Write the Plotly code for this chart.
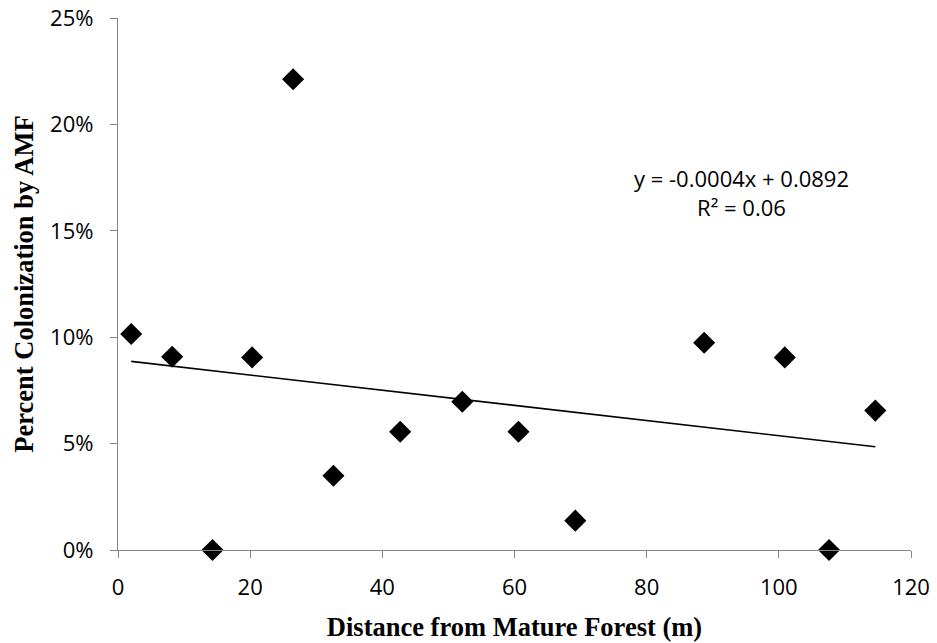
import numpy as np
import plotly.graph_objects as go

# Distance from mature forest (m) and AMF colonization (fraction)
distance_m = [2.0, 8.2, 14.3, 20.3, 26.5, 32.6, 42.7, 52.1, 60.6, 69.2, 88.7, 100.9, 107.6, 114.6]
colonization = [0.1015, 0.0908, 0.0, 0.0905, 0.2212, 0.0349, 0.0556, 0.0697, 0.0556, 0.0138,
                0.0974, 0.0905, 0.0, 0.0655]

x_ticks = [0, 20, 40, 60, 80, 100, 120]
y_ticks = [0, 0.05, 0.10, 0.15, 0.20, 0.25]

equation_text = "y = -0.0004x + 0.0892<br>R² = 0.06"

# Least-squares linear trend over the observed distance span
slope, intercept = np.polyfit(distance_m, colonization, 1)
trend_x = [min(distance_m), max(distance_m)]
trend_y = [slope * v + intercept for v in trend_x]

axis_gray = "#868686"
tick_font = dict(family="Open Sans, Liberation Sans, sans-serif", size=22, color="#000000")
serif = "Liberation Serif, Times New Roman, serif"

fig = go.Figure()
fig.add_trace(go.Scatter(
    x=trend_x, y=trend_y, mode="lines",
    line=dict(color="#000000", width=1.6),
    showlegend=False, hoverinfo="skip",
))
fig.add_trace(go.Scatter(
    x=distance_m, y=colonization, mode="markers",
    marker=dict(symbol="diamond", size=17, color="#000000", line=dict(width=0)),
    cliponaxis=False, showlegend=False,
))

# Trendline equation label
fig.add_annotation(
    x=94.3, y=0.1678, xref="x", yref="y", text=equation_text,
    showarrow=False, font=dict(family=tick_font["family"], size=22, color="#000000"),
    align="center", xanchor="center", yanchor="middle",
)

fig.update_layout(
    width=937, height=643,
    margin=dict(l=117.5, r=26.3, t=18, b=93, autoexpand=False),
    paper_bgcolor="#ffffff", plot_bgcolor="#ffffff",
    xaxis=dict(
        range=[0, 120], tickvals=x_ticks, ticktext=[str(v) for v in x_ticks],
        showline=True, linecolor=axis_gray, linewidth=1.3,
        ticks="outside", ticklen=7, tickcolor=axis_gray, tickwidth=1.3,
        ticklabelstandoff=10, automargin=False,
        showgrid=False, zeroline=False, tickfont=tick_font,
        title=dict(text="<b>Distance from Mature Forest (m)</b>",
                   font=dict(family=serif, size=26.5, color="#000000"), standoff=17),
    ),
    yaxis=dict(
        range=[0, 0.25], tickvals=y_ticks, tickformat=".0%",
        showline=True, linecolor=axis_gray, linewidth=1.3,
        ticks="outside", ticklen=7, tickcolor=axis_gray, tickwidth=1.3,
        ticklabelstandoff=12, automargin=False,
        showgrid=False, zeroline=False, tickfont=tick_font,
        title=dict(text="<b>Percent Colonization by AMF</b>",
                   font=dict(family=serif, size=26.5, color="#000000"), standoff=8),
    ),
)

fig.write_html("out.html")
